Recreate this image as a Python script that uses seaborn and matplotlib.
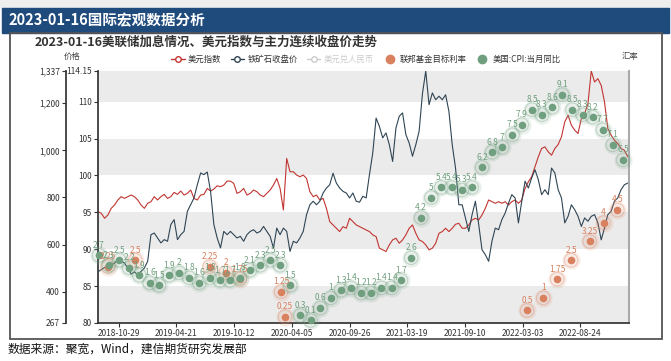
import pandas as pd
import matplotlib
matplotlib.use('Agg')
import matplotlib.pyplot as plt
from matplotlib.lines import Line2D
from matplotlib.patches import Rectangle
import seaborn as sns

sns.set_theme(style='white')
plt.rcParams['font.family'] = ['Noto Sans CJK SC', 'DejaVu Sans']
plt.rcParams['axes.unicode_minus'] = False

# 美元指数 (10-day samples)
usd_index = [95.09, 94.86, 94.19, 94.64, 95.54, 95.99, 96.67, 97.12, 96.89, 97.12,
             97.34, 97.12, 96.67, 95.99, 95.54, 96.22, 96.44, 97.12, 96.67, 97.12,
             97.43, 96.89, 97.12, 97.70, 97.43, 97.88, 97.34, 97.57, 98.02, 96.89,
             96.67, 97.34, 97.43, 98.24, 97.88, 98.15, 98.60, 98.47, 98.69, 99.23,
             99.23,
             98.92, 97.57, 97.79, 98.24, 97.34, 97.57, 98.02, 97.79, 97.34, 97.12,
             97.57, 98.02, 98.69, 99.59, 98.24, 95.32, 102.30, 100.50, 100.50, 100.05,
             99.82, 100.05, 99.59, 97.79, 97.12, 97.34, 96.67, 96.89, 95.54, 93.74,
             93.29, 92.84, 92.39, 93.06, 92.84, 94.19, 93.74, 93.29, 93.06, 92.84,
             92.61, 92.39, 91.94, 91.71, 90.14, 89.91, 89.69, 90.59, 91.26, 91.49,
             90.81, 91.26, 91.94, 92.84, 93.29, 92.16, 91.26, 91.04, 90.59, 89.91,
             90.14, 90.81, 92.16, 92.39, 92.84, 92.39, 92.84, 93.38, 93.51, 92.84,
             92.84, 93.29, 93.96, 94.19, 93.96, 94.64, 95.54, 96.67, 96.44, 96.22,
             96.44, 96.22, 96.44, 95.99, 96.44, 96.67, 96.22, 96.67, 98.24, 99.14,
             99.82, 101.17, 102.52, 103.65, 103.87, 103.20, 102.74, 103.65, 104.19, 105.23,
             107.26, 108.15, 106.80, 106.13, 105.68, 107.70, 108.38, 109.73, 114.15, 112.66,
             113.11, 112.21, 109.96, 106.35, 105.45, 104.77, 104.32, 103.65, 103.42, 102.52]

# 铁矿石收盘价
iron_ore = [484, 494, 503, 500, 512, 522, 536, 529, 522, 500,
            475, 484, 472, 486, 500, 529, 642, 649, 628, 607,
            621, 614, 685, 706, 621, 642, 656, 741, 770, 798,
            854, 904, 897, 908, 826, 685, 628, 586, 656, 642,
            656,
            642, 628, 635, 614, 642, 656, 663, 649, 656, 677,
            656, 635, 585, 670, 642, 670, 656, 571, 614, 607,
            628, 656, 727, 769, 784, 769, 784, 819, 840, 854,
            903, 861, 840, 826, 819, 798, 819, 784, 780, 805,
            798, 897, 989, 1137, 1102, 1053, 1074, 1024, 953, 1095,
            1145, 1159, 1067, 1031, 975, 1024, 1081, 1240, 1337, 1194,
            1244, 1215, 1230, 1215, 1236, 1166, 1024, 925, 769, 769,
            713, 656, 727, 784, 685, 578, 557, 529, 614, 670,
            663, 706, 734, 776, 812, 798, 692, 784, 869, 840,
            883, 918, 876, 812, 833, 812, 925, 904, 833, 798,
            692, 720, 769, 748, 720, 677, 713, 699, 720, 727,
            692, 620, 670, 727, 741, 784, 798, 833, 854, 861]

dates = pd.date_range('2018-08-28', periods=len(usd_index), freq='10D')

# 联邦基金目标利率
fed_dates = pd.to_datetime(['2018-09-26', '2018-12-19', '2019-07-31', '2019-09-18',
                            '2019-10-30', '2020-03-03', '2020-03-15', '2022-03-16',
                            '2022-05-04', '2022-06-15', '2022-07-27', '2022-09-21',
                            '2022-11-02', '2022-12-14'])
fed_rate = [2.25, 2.5, 2.25, 2.0, 1.75, 1.25, 0.25, 0.5, 1.0, 1.75, 2.5, 3.25, 4.0, 4.5]

# 美国:CPI:当月同比
cpi = [2.7, 2.3, 2.5, 2.2, 1.9,
       1.6, 1.5, 1.9, 2.0, 1.8, 1.6, 1.8, 1.7, 1.7, 1.8, 2.1, 2.3,
       2.5, 2.3, 1.5, 0.3, 0.1, 0.6, 1.0, 1.3, 1.4, 1.2, 1.2, 1.4,
       1.4, 1.7, 2.6, 4.2, 5.0, 5.4, 5.4, 5.3, 5.4, 6.2, 6.8, 7.0,
       7.5, 7.9, 8.5, 8.3, 8.6, 9.1, 8.5, 8.3, 8.2, 7.7, 7.1, 6.5]
cpi_dates = pd.date_range('2018-08-31', periods=len(cpi), freq='ME')

x_ticks = ['2018-10-29', '2019-04-21', '2019-10-12', '2020-04-05', '2020-09-26',
           '2021-03-19', '2021-09-10', '2022-03-03', '2022-08-24']
usd_ticks = [80, 85, 90, 95, 100, 105, 110, 114.15]
ore_ticks = [267, 400, 600, 800, 1000, 1200, 1337]

c_usd, c_ore, c_cny, c_fed, c_cpi = '#c23531', '#2f4554', '#cccccc', '#d9805f', '#6f9f7e'

fig = plt.figure(figsize=(6.71, 3.61), dpi=100)
W, H = 671, 361

# 顶部标题栏
fig.patches.append(Rectangle((0, 1 - 8 / H), 1, 8 / H, transform=fig.transFigure, color='#eeeeee', zorder=0))
fig.patches.append(Rectangle((2 / W, 1 - 33 / H), 667 / W, 25 / H, transform=fig.transFigure,
                             color='#1f4a7c', zorder=1))
fig.text(8 / W, 1 - 20.5 / H, '2023-01-16国际宏观数据分析', color='white', fontsize=10.5,
         fontweight='bold', va='center', ha='left')
fig.patches.append(Rectangle((10 / W, 1 - 339 / H), 652 / W, 306 / H, transform=fig.transFigure,
                             fill=False, edgecolor='#555555', lw=1.3, zorder=1))
fig.text(35 / W, 1 - 42 / H, '2023-01-16美联储加息情况、美元指数与主力连续收盘价走势', color='#333333',
         fontsize=9, fontweight='bold', va='center', ha='left')
fig.text(8 / W, 1 - 349 / H, '数据来源：聚宽，Wind，建信期货研究发展部', color='#111111',
         fontsize=8.5, va='center', ha='left', style='italic')
fig.text(72 / W, 1 - 56 / H, '价格', color='#444444', fontsize=6, va='center', ha='center')
fig.text(630 / W, 1 - 57 / H, '汇率', color='#444444', fontsize=6, va='center', ha='center')

ax = fig.add_axes([98 / W, 38 / H, 531 / W, 252 / H])
for lo, hi in [(80, 85), (90, 95), (100, 105), (110, 114.15)]:
    ax.axhspan(lo, hi, color='#ebebeb', lw=0, zorder=0)
sns.lineplot(x=dates, y=usd_index, ax=ax, color=c_usd, lw=0.8)
ax.set_ylim(80, 114.15)
ax.set_xlim(pd.Timestamp('2018-08-28'), pd.Timestamp('2023-01-18'))
ax.set_yticks(usd_ticks)
ax.set_yticklabels([f'{t:g}' for t in usd_ticks])
ax.set_xticks(pd.to_datetime(x_ticks))
ax.set_xticklabels(x_ticks)
ax.tick_params(axis='both', labelsize=6, length=3, width=0.8, colors='#333333', pad=1.5,
               left=True, bottom=True)
ax.spines['top'].set_visible(False)
ax.spines['left'].set_color('#333333')
ax.spines['bottom'].set_color('#333333')
ax.spines['right'].set_color('#aaaaaa')
ax.spines['right'].set_linewidth(1.5)
ax.set_xlabel('')
ax.set_ylabel('')

ax2 = ax.twinx()
sns.lineplot(x=dates, y=iron_ore, ax=ax2, color=c_ore, lw=0.8)
ax2.set_ylim(267, 1337)
ax2.spines['left'].set_position(('outward', 23))
ax2.spines['left'].set_visible(True)
ax2.spines['left'].set_color('#333333')
ax2.spines['right'].set_visible(False)
ax2.spines['top'].set_visible(False)
ax2.spines['bottom'].set_visible(False)
ax2.yaxis.set_ticks_position('left')
ax2.set_yticks(ore_ticks)
ax2.set_yticklabels([f'{t:,}' for t in ore_ticks])
ax2.tick_params(axis='y', labelsize=6, length=3, width=0.8, colors='#333333', pad=1.5, left=True)
ax2.set_ylabel('')

ax3 = ax.twinx()
ax3.set_ylim(0, 10.04)
ax3.axis('off')
for d_, v_, col in [(fed_dates, fed_rate, c_fed), (cpi_dates, cpi, c_cpi)]:
    sns.scatterplot(x=d_, y=v_, ax=ax3, s=170, color=col, alpha=0.15, lw=0, clip_on=False)
    sns.scatterplot(x=d_, y=v_, ax=ax3, s=95, facecolor='none', edgecolor=col, alpha=0.35,
                    lw=0.8, clip_on=False)
    sns.scatterplot(x=d_, y=v_, ax=ax3, s=30, color=col, lw=0, clip_on=False)
    for d, v in zip(d_, v_):
        ax3.annotate(f'{v:g}', (d, v), xytext=(0, 4), textcoords='offset points', ha='center',
                     va='bottom', fontsize=6, color=col, annotation_clip=False)
ax3.set_xlim(ax.get_xlim())

handles = [
    Line2D([0], [0], color=c_usd, lw=1, marker='o', markersize=4, markerfacecolor='white'),
    Line2D([0], [0], color=c_ore, lw=1, marker='o', markersize=4, markerfacecolor='white'),
    Line2D([0], [0], color=c_cny, lw=1, marker='o', markersize=4, markerfacecolor='white'),
    Line2D([0], [0], color=c_fed, lw=0, marker='o', markersize=6),
    Line2D([0], [0], color=c_cpi, lw=0, marker='o', markersize=6),
]
labels = ['美元指数', '铁矿石收盘价', '美元兑人民币', '联邦基金目标利率', '美国:CPI:当月同比']
leg = fig.legend(handles, labels, loc='center', bbox_to_anchor=(366 / W, 1 - 59 / H), ncol=5,
                 fontsize=6, frameon=False, handlelength=1.6, handletextpad=0.4, columnspacing=1.1)
for t, c in zip(leg.get_texts(), ['#333333', '#333333', '#cccccc', '#333333', '#333333']):
    t.set_color(c)

fig.savefig('out.png', dpi=100)
